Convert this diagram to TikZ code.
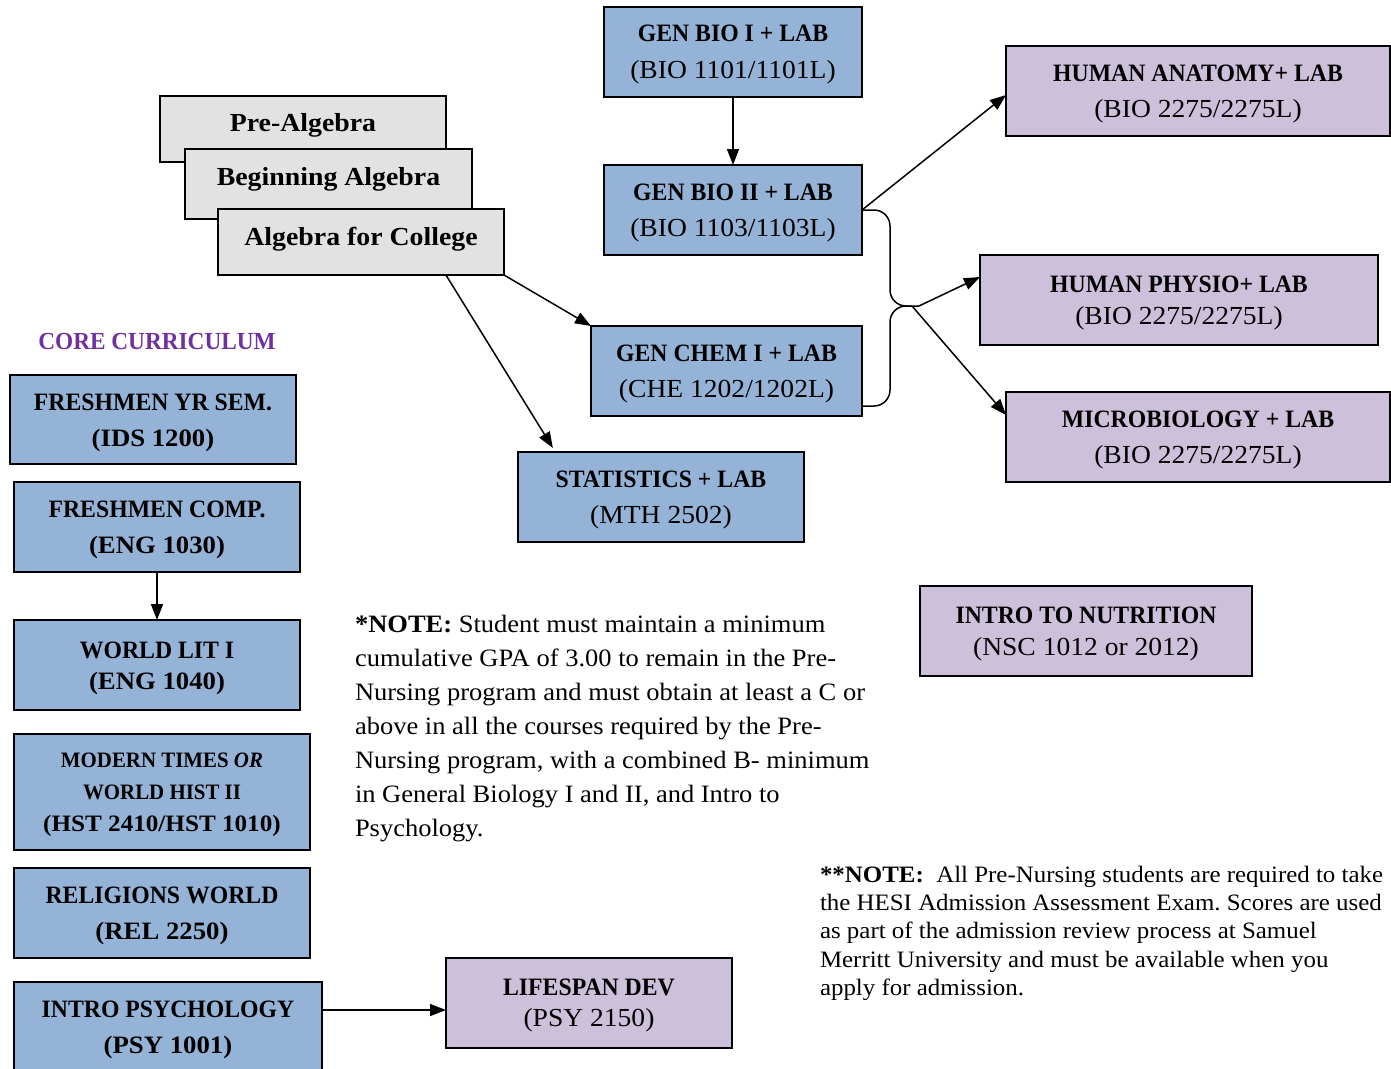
\documentclass[tikz,border=0pt]{standalone}
\usepackage{fontspec}
\setmainfont{Liberation Serif}[FakeStretch=1.06]
\newfontfamily\capsfam{Liberation Serif}[FakeStretch=0.95]
\newfontfamily\mixfam{Liberation Serif}[FakeStretch=1.07]
\usetikzlibrary{arrows.meta,calc}
\definecolor{boxblue}{HTML}{95B3D7}
\definecolor{boxpurple}{HTML}{CCC0DA}
\definecolor{corepurple}{HTML}{7030A0}
\definecolor{alggray}{HTML}{E2E2E2}
\newcommand\ttl[1]{{\capsfam\bfseries\rule{0pt}{22.5pt}#1}}
\newcommand\cod[1]{{\fontsize{26}{36}\selectfont\mdseries #1}}
\newcommand\bcod[1]{{\mixfam\bfseries #1}}
\newcommand\dst[1]{\rule[-#1]{0pt}{1pt}}
\frenchspacing
\begin{document}
\begin{tikzpicture}[x=1pt,y=-1pt,
  every node/.style={inner sep=0pt, outer sep=0pt},
  boxbase/.style={draw=black, line width=2pt, align=center, font=\fontsize{25}{36}\selectfont},
  bluebox/.style={boxbase, fill=boxblue},
  purplebox/.style={boxbase, fill=boxpurple},
  algbox/.style={draw=black, line width=1.6pt, fill=alggray, align=center,
     font=\fontsize{26}{30}\selectfont\mixfam\bfseries},
  conn/.style={line width=1.5pt},
  arr/.style={conn, -{Triangle[length=16pt,width=12pt]}},
]
\useasboundingbox (0,0) rectangle (1391,1068);

% algebra stack
\node[algbox, minimum width=286pt, minimum height=66pt] (pre) at (303,129) {Pre-Algebra\dst{12.5pt}};
\node[algbox, minimum width=287pt, minimum height=70pt] (beg) at (328.5,184) {Beginning Algebra\dst{14.5pt}};
\node[algbox, minimum width=286pt, minimum height=66pt] (alg) at (361,242) {Algebra for College\dst{10.5pt}};

% science column
\node[bluebox, minimum width=258pt, minimum height=90pt, font=\fontsize{25}{37}\selectfont] (bio1) at (733,52)
  {\ttl{GEN BIO I + LAB}\\\cod{(BIO 1101/1101L)}};
\node[bluebox, minimum width=258pt, minimum height=90pt] (bio2) at (733,210)
  {\ttl{GEN BIO II + LAB}\\\cod{(BIO 1103/1103L)}};
\node[bluebox, minimum width=271pt, minimum height=90pt] (chem) at (726.5,371)
  {\ttl{GEN CHEM I + LAB}\\\cod{(CHE 1202/1202L)}};
\node[bluebox, minimum width=286pt, minimum height=90pt] (stats) at (661,497)
  {\ttl{STATISTICS + LAB}\\\cod{(MTH 2502)}};

% purple boxes
\node[purplebox, minimum width=384pt, minimum height=90pt] (anat) at (1198,91)
  {\ttl{HUMAN ANATOMY+ LAB}\\\cod{(BIO 2275/2275L)}};
\node[purplebox, minimum width=398pt, minimum height=90pt, font=\fontsize{25}{32}\selectfont] (phys) at (1179,300)
  {\ttl{HUMAN PHYSIO+ LAB}\\\cod{(BIO 2275/2275L)}};
\node[purplebox, minimum width=384pt, minimum height=90pt] (micro) at (1198,437)
  {\ttl{MICROBIOLOGY + LAB}\\\cod{(BIO 2275/2275L)}};
\node[purplebox, minimum width=332pt, minimum height=90pt, font=\fontsize{25}{32}\selectfont] (nutr) at (1086,631)
  {\ttl{INTRO TO NUTRITION}\\\cod{(NSC 1012 or 2012)}};
\node[purplebox, minimum width=286pt, minimum height=90pt, font=\fontsize{25}{31}\selectfont] (life) at (589,1003)
  {\ttl{LIFESPAN DEV}\\\cod{(PSY 2150)}};

% core curriculum
\node[font=\fontsize{24.5}{28}\selectfont\capsfam\bfseries, text=corepurple] (core) at (157,342) {CORE CURRICULUM};
\node[bluebox, minimum width=286pt, minimum height=89pt] (fyr) at (153,419.5)
  {\ttl{FRESHMEN YR SEM.}\\\bcod{(IDS 1200)}};
\node[bluebox, minimum width=286pt, minimum height=90pt] (fcomp) at (157,527)
  {\ttl{FRESHMEN COMP.}\\\bcod{(ENG 1030)}};
\node[bluebox, minimum width=286pt, minimum height=90pt, font=\fontsize{25}{31}\selectfont] (wlit) at (157,665)
  {\ttl{WORLD LIT I}\\\bcod{(ENG 1040)}};
\node[bluebox, minimum width=296pt, minimum height=116pt, font=\fontsize{22}{32}\selectfont] (modern) at (162,792)
  {{\capsfam\bfseries\rule{0pt}{20pt}MODERN TIMES \textit{OR}}\\{\capsfam\bfseries WORLD HIST II}\\{\fontsize{23.5}{32}\selectfont\mixfam\bfseries (HST 2410/HST 1010)}};
\node[bluebox, minimum width=296pt, minimum height=90pt] (relig) at (162,913)
  {\ttl{RELIGIONS WORLD}\\\bcod{(REL 2250)}};
\node[bluebox, minimum width=308pt, minimum height=90pt] (psy) at (168,1027)
  {\ttl{INTRO PSYCHOLOGY}\\\bcod{(PSY 1001)}};

% notes
\node[anchor=north west, align=left, font=\fontsize{25}{34}\selectfont] (note1) at (355,615)
  {\textbf{*NOTE:} Student must maintain a minimum\\
   cumulative GPA of 3.00 to remain in the Pre-\\
   Nursing program and must obtain at least a C or\\
   above in all the courses required by the Pre-\\
   Nursing program, with a combined B- minimum\\
   in General Biology I and II, and Intro to\\
   Psychology.};
\node[anchor=north west, align=left, font=\fontsize{23.5}{28.3}\selectfont] (note2) at (820,866)
  {\textbf{**NOTE:}\ \ All Pre-Nursing students are required to take\\
   the HESI Admission Assessment Exam. Scores are used\\
   as part of the admission review process at Samuel\\
   Merritt University and must be available when you\\
   apply for admission.};

% connectors
\draw[arr] (bio1) -- (bio2);
\draw[arr] (fcomp) -- (wlit);
\draw[arr] ($(psy.north east)+(0,28)$) -- ($(life.north west)+(0,52)$);
\draw[arr] (alg.south east) -- (chem.north west);
\draw[arr] ($(alg.south west)!0.797!(alg.south east)$) -- ($(stats.north west)!0.122!(stats.north east)+(0,-4)$);
\draw[arr] (bio2.east) -- ($(anat.west)+(0,4)$);

\coordinate (jn) at (912,306);
\coordinate (jt) at (919,306);
\draw[conn, rounded corners=16pt] (bio2.east) -| ($(jn)+(-22,0)$) -- (jn);
\draw[conn, rounded corners=16pt] ($(chem.south east)+(0,-10)$) -| ($(jn)+(-22,0)$) -- (jn);
\draw[arr] (jn) -- (jt) -- ($(phys.north west)+(0,22)$);
\draw[arr] (jn) -- ($(micro.north west)+(0,23)$);
\end{tikzpicture}
\end{document}
